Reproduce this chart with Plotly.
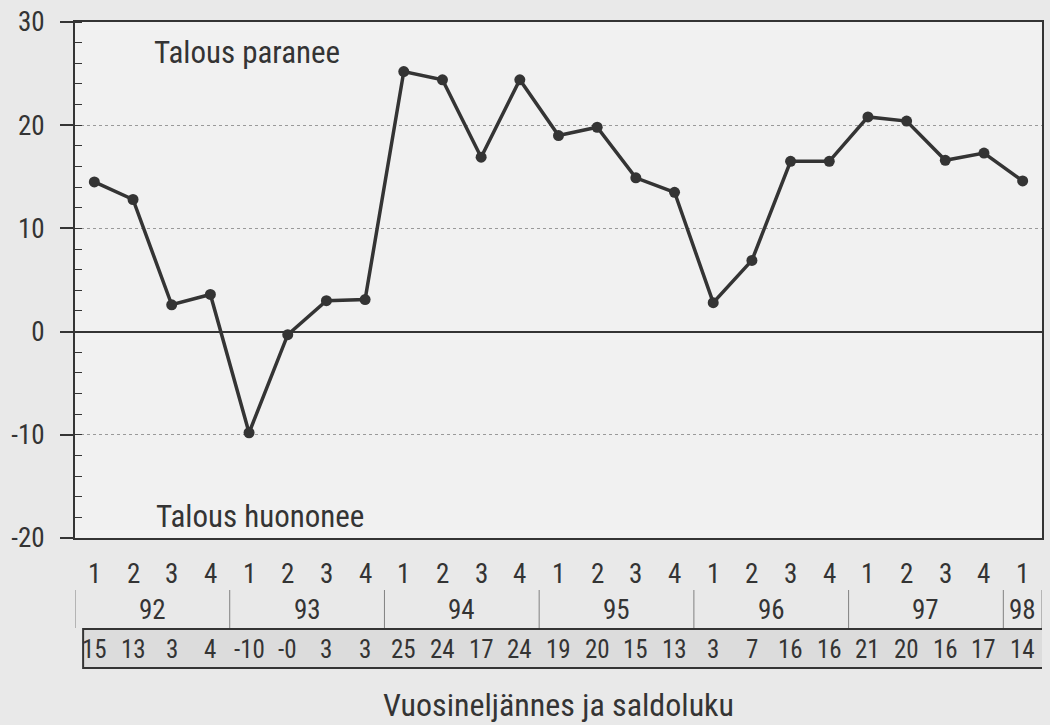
import plotly.graph_objects as go

# ---- data ----
quarters = ["1", "2", "3", "4"] * 6 + ["1"]
years = ["92", "93", "94", "95", "96", "97", "98"]
quarters_per_year = [4, 4, 4, 4, 4, 4, 1]
values = [14.5, 12.8, 2.6, 3.6, -9.8, -0.3, 3.0, 3.1, 25.2, 24.4, 16.9, 24.4,
          19.0, 19.8, 14.9, 13.5, 2.8, 6.9, 16.5, 16.5, 20.8, 20.4, 16.6, 17.3, 14.6]
table_labels = ["15", "13", "3", "4", "-10", "-0", "3", "3", "25", "24", "17", "24",
                "19", "20", "15", "13", "3", "7", "16", "16", "21", "20", "16", "17", "14"]
y_ticks = [-20, -10, 0, 10, 20, 30]
y_tick_text = ["-20", "-10", "0", "10", "20", "30"]
top_note = "Talous paranee"
bottom_note = "Talous huononee"
x_title = "Vuosineljännes ja saldoluku"

FONT = "Liberation Sans Narrow, Roboto Condensed, Roboto, sans-serif"
INK = "#343434"
n = len(values)
xs = list(range(n))


def f(size):
    return dict(size=size, color=INK, family=FONT)


fig = go.Figure()
fig.add_trace(go.Scatter(
    x=xs, y=values, mode="lines+markers",
    line=dict(color=INK, width=3.5),
    marker=dict(color=INK, size=11),
    hoverinfo="skip", showlegend=False,
))

annotations = []
shapes = []

# quarter labels
for i, q in enumerate(quarters):
    annotations.append(dict(x=i, y=0, xref="x", yref="paper", text=q, showarrow=False,
                            yanchor="middle", yshift=-36, font=f(27)))

# year labels and separators
start = 0
bounds = [-0.5]
for yr, cnt in zip(years, quarters_per_year):
    center = start + (cnt - 1) / 2
    annotations.append(dict(x=center, y=0, xref="x", yref="paper", text=yr, showarrow=False,
                            yanchor="middle", yshift=-72, font=f(27)))
    start += cnt
    bounds.append(start - 0.5)
for b in bounds:
    shapes.append(dict(type="line", xref="x", yref="paper", x0=b, x1=b,
                       ysizemode="pixel", yanchor=0, y0=-52, y1=-90,
                       line=dict(color="#808080", width=1)))

# value table box
shapes.append(dict(type="rect", xref="x", yref="paper", x0=-0.29, x1=24.6,
                   ysizemode="pixel", yanchor=0, y0=-91, y1=-130,
                   fillcolor="#dcdcdc", line=dict(color=INK, width=2), layer="below"))
for i, t in enumerate(table_labels):
    annotations.append(dict(x=i, y=0, xref="x", yref="paper", text=t, showarrow=False,
                            yanchor="middle", yshift=-111, font=f(25)))

# notes
annotations.append(dict(x=0.0796, y=27, xref="paper", yref="y", text=top_note, showarrow=False,
                        xanchor="left", yanchor="middle", font=f(31)))
annotations.append(dict(x=0.082, y=-17.9, xref="paper", yref="y", text=bottom_note, showarrow=False,
                        xanchor="left", yanchor="middle", font=f(31)))
# axis title
annotations.append(dict(x=0.5, y=0, xref="paper", yref="paper", text=x_title, showarrow=False,
                        yanchor="middle", yshift=-167, font=f(32)))

fig.update_layout(
    width=1050, height=725,
    margin=dict(l=75, r=8, t=22, b=187),
    paper_bgcolor="#e9e9e9", plot_bgcolor="#f1f1f1",
    font=f(24),
    annotations=annotations, shapes=shapes,
    showlegend=False,
)
fig.update_xaxes(range=[-0.5, n - 0.5], showticklabels=False, ticks="", showgrid=False,
                 zeroline=False, showline=True, linecolor=INK, linewidth=2, mirror=True,
                 automargin=False)
fig.update_yaxes(range=[-20, 30], tickvals=y_ticks, ticktext=y_tick_text, ticks="outside",
                 ticklen=13, tickwidth=1.5, automargin=False,
                 tickcolor=INK, ticklabelstandoff=10, tickfont=f(27),
                 showgrid=True, gridcolor="#9a9a9a", griddash="dot", gridwidth=1,
                 zeroline=True, zerolinecolor=INK, zerolinewidth=1.5,
                 showline=True, linecolor=INK, linewidth=2, mirror=True,
                 minor=dict(dtick=2, ticks="inside", ticklen=7, tickcolor=INK, tickwidth=1,
                            showgrid=False))

fig.write_html("out.html", config={"displayModeBar": False},
               post_script="document.body.style.margin='0';")
